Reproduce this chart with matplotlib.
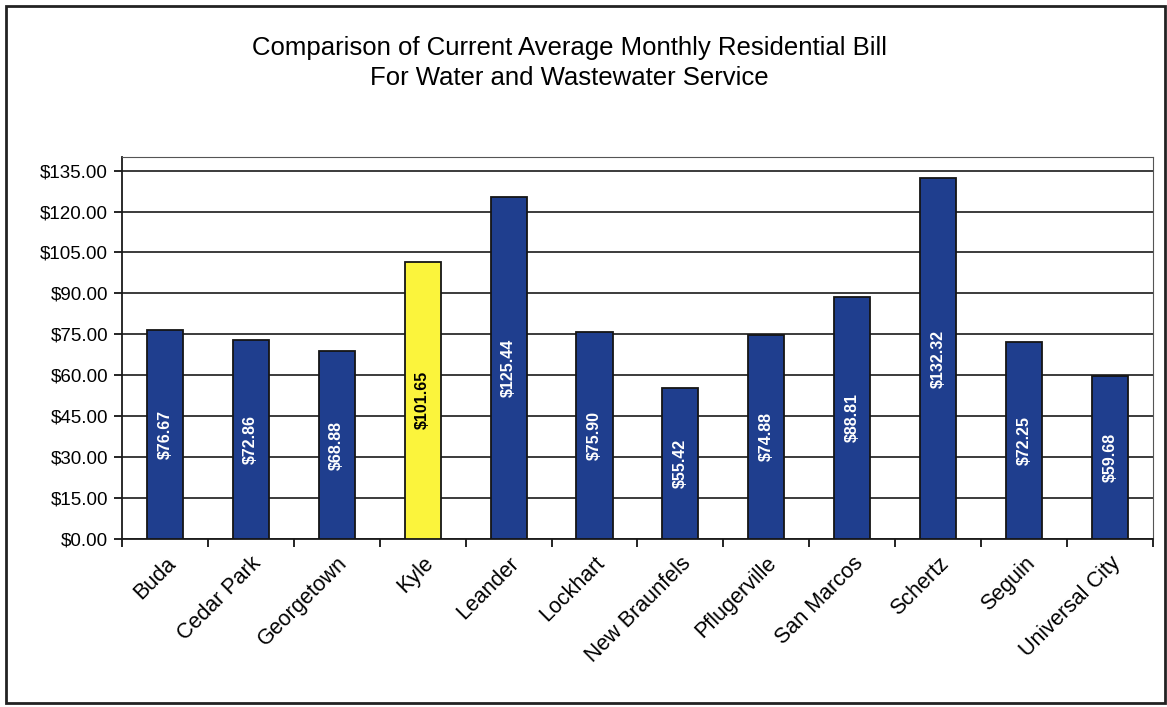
import matplotlib
matplotlib.use("Agg")
import matplotlib.pyplot as plt
from matplotlib.patches import Rectangle
from matplotlib.ticker import FuncFormatter, FixedLocator

plt.rcParams["font.family"] = ["Liberation Sans", "DejaVu Sans"]

cities = ["Buda", "Cedar Park", "Georgetown", "Kyle", "Leander", "Lockhart",
          "New Braunfels", "Pflugerville", "San Marcos", "Schertz", "Seguin",
          "Universal City"]
bills = [76.67, 72.86, 68.88, 101.65, 125.44, 75.90,
         55.42, 74.88, 88.81, 132.32, 72.25, 59.68]
highlight = "Kyle"
y_ticks = [0, 15, 30, 45, 60, 75, 90, 105, 120, 135]

NAVY = "#1f3e8e"
YELLOW = "#fbf43c"

fig = plt.figure(figsize=(11.67, 7.07), dpi=100)
ax = fig.add_axes([0.1045, 0.2376, 0.8835, 0.5404])

colors = [YELLOW if c == highlight else NAVY for c in cities]
x = list(range(len(cities)))
bars = ax.bar(x, bills, width=0.42, color=colors, edgecolor="#151515",
              linewidth=1.3, zorder=3)

for rect, val, c in zip(bars, bills, cities):
    ax.text(rect.get_x() + rect.get_width() / 2, val / 2, f"${val:.2f}",
            rotation=90, ha="center", va="center", fontsize=11.5,
            fontweight="bold", color="black" if c == highlight else "white",
            zorder=4)

ax.set_xlim(-0.5, len(cities) - 0.5)
ax.set_ylim(0, 140)
ax.yaxis.set_major_locator(FixedLocator(y_ticks))
ax.yaxis.set_major_formatter(FuncFormatter(lambda v, _: f"${v:.2f}"))
ax.grid(axis="y", color="#1a1a1a", linewidth=1.2, zorder=1)

# category boundaries carry the tick marks, labels sit under the bars
ax.set_xticks([i - 0.5 for i in range(len(cities) + 1)])
ax.set_xticklabels([])
ax.set_xticks(x, minor=True)
ax.set_xticklabels(cities, minor=True, rotation=45, ha="right",
                   rotation_mode="anchor", fontsize=15.5)
ax.tick_params(axis="x", which="minor", length=0, pad=10)
ax.tick_params(axis="x", which="major", length=6, width=1.2, direction="out")
ax.tick_params(axis="y", length=6, width=1.2, direction="out", labelsize=13.5, pad=4)

for side in ["top", "right"]:
    ax.spines[side].set_linewidth(0.8)
    ax.spines[side].set_color("#555555")
for side in ["left", "bottom"]:
    ax.spines[side].set_linewidth(1.3)
    ax.spines[side].set_color("#1a1a1a")

fig.text(0.488, 0.932, "Comparison of Current Average Monthly Residential Bill",
         ha="center", va="center", fontsize=18.5)
fig.text(0.488, 0.889, "For Water and Wastewater Service",
         ha="center", va="center", fontsize=18.5)

# outer frame around the chart
fig.patches.append(Rectangle((0.005, 0.006), 0.993, 0.986, transform=fig.transFigure,
                             fill=False, edgecolor="#222222", linewidth=2))

fig.savefig("out.png", dpi=100)
